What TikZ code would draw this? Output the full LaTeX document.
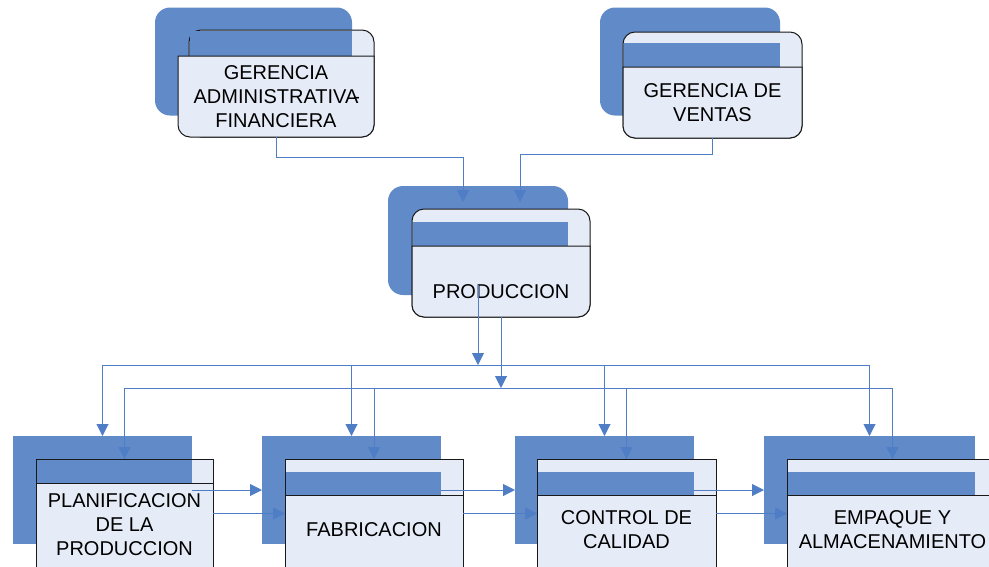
\documentclass[tikz,border=0pt]{standalone}
\usepackage{fontspec}
\setmainfont{Liberation Sans}
\usetikzlibrary{arrows.meta}
\definecolor{azul}{RGB}{96,138,200}
\definecolor{claro}{RGB}{230,236,247}
\definecolor{linea}{RGB}{80,126,198}
\definecolor{borde}{RGB}{25,25,25}
\begin{document}
\begin{tikzpicture}[x=1pt,y=-1pt,
  fondo/.style={draw=none,fill=azul,inner sep=0pt,outer sep=0pt},
  atras/.style={draw=borde,fill=claro,line width=1pt,inner sep=0pt,outer sep=0pt},
  frente/.style={draw=borde,fill=claro,line width=1pt,inner sep=0pt,outer sep=0pt},
  texto/.style={align=center,inner sep=0pt,outer sep=0pt,font=\fontsize{20}{24}\selectfont},
  conector/.style={draw=linea,line width=1pt,-{Triangle[length=12pt,width=12pt]}},
  bus/.style={draw=linea,line width=1pt}]
  \useasboundingbox (0,0) rectangle (989,566);
  \clip (0,0) rectangle (989,566);

  % gerencia administrativa
  \node (ga-fondo) at (253.5,61.5) [fondo,rounded corners=15pt,minimum width=197pt,minimum height=108pt] {};
  \node (ga-atras) at (281.5,83.5) [atras,rounded corners=12pt,minimum width=185pt,minimum height=107pt] {};
  \fill[azul] (189.5,31) rectangle (352,56);
  \filldraw[frente] (178,56) -- (374,56) -- (374,125) .. controls (374,131.6) and (368.6,137) .. (362,137) -- (190,137) .. controls (183.4,137) and (178,131.6) .. (178,125) -- cycle;
  \node (ga) at (276,96.5) [texto,minimum width=196pt,minimum height=81pt] {GERENCIA\\ADMINISTRATIVA\rlap{\kern-5pt-}\\FINANCIERA};

  % gerencia de ventas
  \node (gv-fondo) at (690,61.5) [fondo,rounded corners=15pt,minimum width=180pt,minimum height=108pt] {};
  \node (gv-atras) at (712.5,85) [atras,rounded corners=12pt,minimum width=179pt,minimum height=106pt] {};
  \fill[azul] (623.5,43) rectangle (780,67);
  \filldraw[frente] (623,67) -- (802,67) -- (802,126) .. controls (802,132.6) and (796.6,138) .. (790,138) -- (635,138) .. controls (628.4,138) and (623,132.6) .. (623,126) -- cycle;
  \node (gv) at (712.5,102.5) [texto,minimum width=179pt,minimum height=71pt] {GERENCIA DE\\VENTAS};

  % produccion
  \node (prod-fondo) at (478,240.5) [fondo,rounded corners=15pt,minimum width=180pt,minimum height=109pt] {};
  \node (prod-atras) at (501,263) [atras,rounded corners=12pt,minimum width=178pt,minimum height=108pt] {};
  \fill[azul] (412.5,222) rectangle (568,246);
  \filldraw[frente] (412,246) -- (590,246) -- (590,305) .. controls (590,311.6) and (584.6,317) .. (578,317) -- (424,317) .. controls (417.4,317) and (412,311.6) .. (412,305) -- cycle;
  \node (prod) at (501,292) [texto] {PRODUCCION};

  % departamentos
  \node (plan-fondo) at (102.5,490) [fondo,minimum width=179pt,minimum height=108pt] {};
  \node (plan-atras) at (124.5,529.5) [atras,minimum width=177pt,minimum height=141pt] {};
  \fill[azul] (36.5,459.5) rectangle (192,483);
  \node (plan) at (124.5,525.5) [frente,minimum width=177pt,minimum height=85pt] {};
  \node (plan-txt) at (124.5,525) [texto] {PLANIFICACION\\DE LA\\PRODUCCION};

  \node (fab-fondo) at (351.5,490) [fondo,minimum width=179pt,minimum height=108pt] {};
  \node (fab-atras) at (374,513.5) [atras,minimum width=178pt,minimum height=109pt] {};
  \fill[azul] (285.5,472) rectangle (441,495);
  \node (fab) at (374,531.5) [frente,minimum width=178pt,minimum height=73pt] {};
  \node (fab-txt) at (374,530) [texto] {FABRICACION};

  \node (cal-fondo) at (604.5,490) [fondo,minimum width=179pt,minimum height=108pt] {};
  \node (cal-atras) at (626.5,513.5) [atras,minimum width=179pt,minimum height=109pt] {};
  \fill[azul] (537.5,472) rectangle (694,495);
  \node (cal) at (626.5,531.5) [frente,minimum width=179pt,minimum height=73pt] {};
  \node (cal-txt) at (626.5,529.5) [texto] {CONTROL DE\\CALIDAD};

  \node (emp-fondo) at (869.5,490) [fondo,minimum width=211pt,minimum height=108pt] {};
  \node (emp-atras) at (892.5,513.5) [atras,minimum width=211pt,minimum height=109pt] {};
  \fill[azul] (787.5,472) rectangle (975,495);
  \node (emp) at (892.5,531.5) [frente,minimum width=211pt,minimum height=73pt] {};
  \node (emp-txt) at (892.5,529.5) [texto] {EMPAQUE Y\\ALMACENAMIENTO};

  % conectores
  \coordinate (prod-e1) at (463,202);
  \coordinate (prod-e2) at (520,202);
  \coordinate (bus1) at (0,365);
  \coordinate (bus2) at (0,388);
  \draw[conector] (ga.south) -- ++(0,20) -| (prod-e1);
  \draw[conector] (gv.south) -- ++(0,16) -| (prod-e2);
  \draw[conector] (prod.north -| prod-fondo.north) -- (bus1 -| prod-fondo.north);
  \draw[conector] (prod-atras.south) -- (bus2 -| prod-atras.south);
  \draw[bus] (bus1 -| plan-fondo.north) -- (bus1 -| emp-fondo.north);
  \draw[bus] (bus2 -| plan-atras.north) -- (bus2 -| emp-atras.north);
  \foreach \u in {plan,fab,cal,emp} {
    \draw[conector] (bus1 -| \u-fondo.north) -- (\u-fondo.north);
    \draw[conector] (bus2 -| \u-atras.north) -- (\u-atras.north);
  }
  \draw[conector] (plan-fondo.east) -- (fab-fondo.west);
  \draw[conector] (plan-atras.east |- fab-atras.west) -- (fab-atras.west);
  \draw[conector] (fab-fondo.east) -- (cal-fondo.west);
  \draw[conector] (fab-atras.east) -- (cal-atras.west);
  \draw[conector] (cal-fondo.east) -- (emp-fondo.west);
  \draw[conector] (cal-atras.east) -- (emp-atras.west);
\end{tikzpicture}
\end{document}
